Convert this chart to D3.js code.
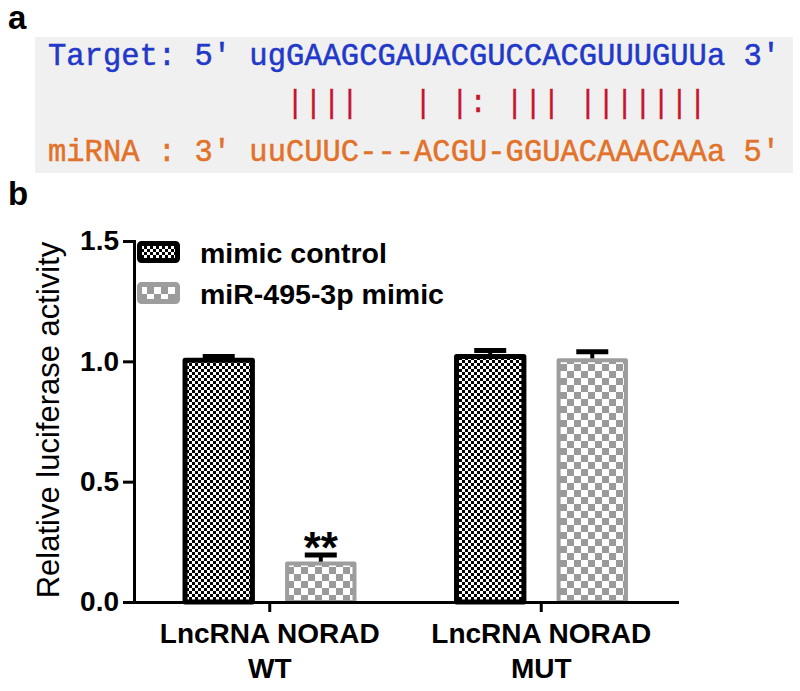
<!DOCTYPE html>
<html>
<head>
<meta charset="utf-8">
<script src="https://cdn.jsdelivr.net/npm/d3@7"></script>
<style>
  html, body { margin: 0; padding: 0; background: #fff; }
  svg { display: block; }
</style>
</head>
<body>
<div id="chart"></div>
<script>
// ---------------- data ----------------
const targetLine = "Target: 5' ugGAAGCGAUACGUCCACGUUUGUUa 3'";
const pairLine   = "             ||||   | |: ||| |||||||";
const mirnaLine  = "miRNA : 3' uuCUUC---ACGU-GGUACAAACAAa 5'";

const categories = ["WT", "MUT"];
const categoryLines = [["LncRNA NORAD", "WT"], ["LncRNA NORAD", "MUT"]];
const series = ["mimic control", "miR-495-3p mimic"];
const controlValues = [1.005, 1.02];
const controlErrors = [0.015, 0.025];
const mimicValues = [0.16, 1.005];
const mimicErrors = [0.035, 0.035];
const significance = ["**", ""];
const yTicks = [0, 0.5, 1.0, 1.5];
const yLabel = "Relative luciferase activity";

// ---------------- setup ----------------
const W = 800, H = 691;
const svg = d3.select("#chart").append("svg").attr("width", W).attr("height", H);
const sans = "'Liberation Sans', Arial, sans-serif";
const mono = "'Courier New', 'Liberation Mono', monospace";
const nb = s => s.replace(/ /g, "\u00A0");

const defs = svg.append("defs");
const pFine = defs.append("pattern").attr("id", "pFine").attr("patternUnits", "userSpaceOnUse")
  .attr("width", 6).attr("height", 6);
pFine.append("rect").attr("width", 6).attr("height", 6).attr("fill", "#fff");
pFine.append("rect").attr("width", 3).attr("height", 3).attr("fill", "#000");
pFine.append("rect").attr("x", 3).attr("y", 3).attr("width", 3).attr("height", 3).attr("fill", "#000");

const pCoarse = defs.append("pattern").attr("id", "pCoarse").attr("patternUnits", "userSpaceOnUse")
  .attr("width", 14).attr("height", 14);
pCoarse.append("rect").attr("width", 14).attr("height", 14).attr("fill", "#fff");
pCoarse.append("rect").attr("width", 7).attr("height", 7).attr("fill", "#9a9a9a");
pCoarse.append("rect").attr("x", 7).attr("y", 7).attr("width", 7).attr("height", 7).attr("fill", "#9a9a9a");

const seriesStyle = [
  { fill: "url(#pFine)", stroke: "#000", sw: 5 },
  { fill: "url(#pCoarse)", stroke: "#9d9d9d", sw: 4 }
];

// ---------------- panel a ----------------
svg.append("text").attr("x", 8).attr("y", 29).attr("font-family", sans).attr("font-weight", "bold")
  .attr("font-size", 33).attr("fill", "#000").text("a");
svg.append("rect").attr("x", 35).attr("y", 37).attr("width", 758).attr("height", 136).attr("fill", "#f0f0f0");

const seqG = svg.append("g").attr("font-family", mono).attr("font-size", 30.5);
seqG.append("text").attr("x", 48).attr("y", 65).attr("fill", "#2238c8")
  .attr("stroke", "#2238c8").attr("stroke-width", 0.5).text(nb(targetLine));
seqG.append("text").attr("x", 48).attr("y", 112).attr("fill", "#c8142e")
  .attr("stroke", "#c8142e").attr("stroke-width", 0.3).text(nb(pairLine));
seqG.append("text").attr("x", 48).attr("y", 161).attr("fill", "#e2722a")
  .attr("stroke", "#e2722a").attr("stroke-width", 0.5).text(nb(mirnaLine));

// ---------------- panel b ----------------
svg.append("text").attr("x", 8).attr("y", 205).attr("font-family", sans).attr("font-weight", "bold")
  .attr("font-size", 33).attr("fill", "#000").text("b");

const x0 = d3.scaleBand().domain(categories).range([134, 677]).paddingInner(0).paddingOuter(0);
const x1 = d3.scaleBand().domain(series).range([0, x0.bandwidth()]).paddingInner(0.34).paddingOuter(0.5);
const y = d3.scaleLinear().domain([0, 1.5]).range([602, 241]);

const valuesBySeries = [controlValues, mimicValues];
const errorsBySeries = [controlErrors, mimicErrors];

const barsG = svg.append("g");
series.forEach((s, si) => {
  const st = seriesStyle[si];
  const data = categories.map((c, ci) => ({ c, ci, v: valuesBySeries[si][ci], e: errorsBySeries[si][ci] }));
  const eg = barsG.append("g");
  eg.selectAll("line.stem").data(data).join("line")
    .attr("x1", d => x0(d.c) + x1(s) + x1.bandwidth() / 2)
    .attr("x2", d => x0(d.c) + x1(s) + x1.bandwidth() / 2)
    .attr("y1", d => y(d.v)).attr("y2", d => y(d.v + d.e))
    .attr("stroke", "#000").attr("stroke-width", 4);
  eg.selectAll("line.cap").data(data).join("line")
    .attr("x1", d => x0(d.c) + x1(s) + x1.bandwidth() / 2 - 16)
    .attr("x2", d => x0(d.c) + x1(s) + x1.bandwidth() / 2 + 16)
    .attr("y1", d => y(d.v + d.e)).attr("y2", d => y(d.v + d.e))
    .attr("stroke", "#000").attr("stroke-width", 5);
  barsG.append("g").selectAll("rect").data(data).join("rect")
    .attr("x", d => x0(d.c) + x1(s))
    .attr("y", d => y(d.v))
    .attr("width", x1.bandwidth())
    .attr("height", d => y(0) - y(d.v))
    .attr("fill", st.fill).attr("stroke", st.stroke).attr("stroke-width", st.sw)
    .attr("stroke-linejoin", "round");
});

// significance marks
svg.append("g").selectAll("text").data(categories.map((c, ci) => ({ c, ci }))).join("text")
  .attr("x", d => x0(d.c) + x1(series[1]) + x1.bandwidth() / 2)
  .attr("y", d => y(mimicValues[d.ci] + mimicErrors[d.ci]) + 8)
  .attr("text-anchor", "middle").attr("font-family", sans).attr("font-weight", "bold")
  .attr("font-size", 44).attr("fill", "#000")
  .text(d => significance[d.ci]);

// axes
const yAxis = svg.append("g").attr("transform", "translate(134,0)")
  .call(d3.axisLeft(y).tickValues(yTicks).tickFormat(d3.format(".1f")).tickSize(11).tickSizeOuter(0).tickPadding(4));
const xAxis = svg.append("g").attr("transform", "translate(0,602)")
  .call(d3.axisBottom(x0).tickSize(10).tickSizeOuter(0).tickFormat(""));
[yAxis, xAxis].forEach(a => {
  a.select(".domain").attr("stroke", "#000").attr("stroke-width", 3).attr("stroke-linecap", "square");
  a.selectAll(".tick line").attr("stroke", "#000").attr("stroke-width", 3);
});
yAxis.selectAll(".tick text").attr("font-family", sans).attr("font-weight", "bold")
  .attr("font-size", 28).attr("fill", "#000");

// x category labels (two lines)
const xl = svg.append("g").attr("font-family", sans).attr("font-weight", "bold").attr("font-size", 28)
  .attr("text-anchor", "middle").attr("fill", "#000");
categories.forEach((c, ci) => {
  categoryLines[ci].forEach((ln, li) => {
    xl.append("text").attr("x", x0(c) + x0.bandwidth() / 2).attr("y", 643 + li * 35).text(ln);
  });
});

// y label
svg.append("text").attr("transform", "translate(59,420) rotate(-90)")
  .attr("text-anchor", "middle").attr("font-family", sans).attr("font-size", 31).attr("fill", "#000")
  .text(yLabel);

// legend
const lg = svg.append("g");
series.forEach((s, si) => {
  const st = seriesStyle[si];
  const yy = 241 + si * 41;
  lg.append("rect").attr("x", 139.5).attr("y", yy + 2.5).attr("width", 38).attr("height", 17)
    .attr("rx", 2).attr("fill", st.fill).attr("stroke", st.stroke).attr("stroke-width", 5);
  lg.append("text").attr("x", 200).attr("y", yy + 22).attr("font-family", sans).attr("font-weight", "bold")
    .attr("font-size", 28.5).attr("fill", "#000").text(s);
});
</script>
</body>
</html>
